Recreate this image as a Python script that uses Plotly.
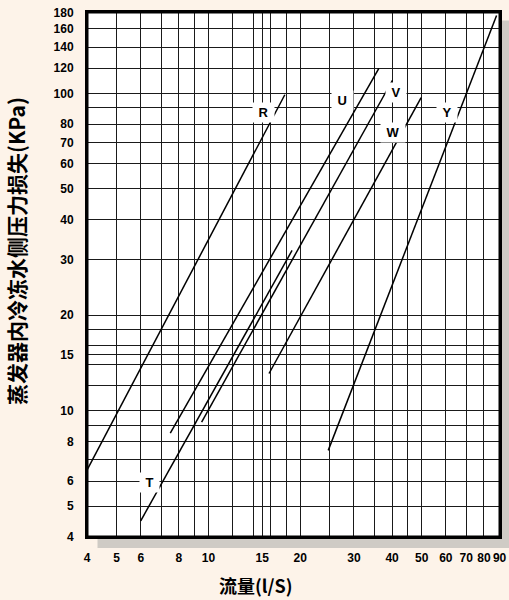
import math
import plotly.graph_objects as go

# Evaporator chilled-water side pressure drop vs. flow, one straight log-log line per model
curve_names = ["R", "T", "U", "V", "W", "Y"]
flow_ls = {
    "R": [4.0, 17.8],
    "T": [6.0, 18.8],
    "U": [7.5, 36.2],
    "V": [9.5, 40.1],
    "W": [15.8, 49.8],
    "Y": [24.7, 88.0],
}
pressure_kpa = {
    "R": [6.5, 99.0],
    "T": [4.5, 32.0],
    "U": [8.5, 120.0],
    "V": [9.2, 110.0],
    "W": [13.1, 97.0],
    "Y": [7.5, 176.0],
}

# Grid / tick values
x_grid = [4, 5, 6, 7, 8, 9, 10, 12, 14, 15, 16, 18, 20, 25, 30, 35, 40, 45, 50, 60, 70, 80, 90]
x_labeled = [4, 5, 6, 8, 10, 15, 20, 30, 40, 50, 60, 70, 80, 90]
y_grid = [4, 5, 6, 7, 8, 9, 10, 12, 14, 15, 16, 18, 20, 30, 40, 50, 60, 70, 80, 90,
          100, 120, 140, 160, 180]
y_labeled = [4, 5, 6, 8, 10, 15, 20, 30, 40, 50, 60, 70, 80, 100, 120, 140, 160, 180]

x_text = [str(v) if v in x_labeled else "" for v in x_grid]
y_text = [str(v) if v in y_labeled else "" for v in y_grid]

# Where each curve name sits (flow, pressure)
label_pos = {
    "R": (15.1, 87.3),
    "U": (27.6, 94.8),
    "V": (41.2, 100.8),
    "W": (40.3, 75.3),
    "Y": (60.4, 87.3),
    "T": (6.42, 5.96),
}

# Page geometry (px)
W, H = 509, 600
ml, mr, mt, mb = 87, 0, 12, 52
pw, ph = W - ml - mr, H - mt - mb
plot_right, plot_bottom = 500, 537

def px_x(p):
    return (p - ml) / pw

def px_y(p):
    return (H - mb - p) / ph

fig = go.Figure()
for name in curve_names:
    fig.add_trace(go.Scatter(
        x=flow_ls[name], y=pressure_kpa[name], mode="lines",
        line=dict(color="black", width=1.5), name=name, showlegend=False,
    ))

nb = "\u00a0"
for name, (fx, py) in label_pos.items():
    fig.add_annotation(
        x=math.log10(fx), y=math.log10(py), xref="x", yref="y",
        text=f"{nb}{name}{nb}", showarrow=False,
        font=dict(family="Liberation Sans, Arial", size=13, color="black", weight="bold"),
        bgcolor="white", borderpad=2,
    )

tick_font = dict(family="Liberation Sans, Arial", size=12, color="black", weight="bold")
grid_color = "#1a1a1a"

fig.update_xaxes(
    type="log", range=[math.log10(4), math.log10(90.3)], automargin=False,
    domain=[0, px_x(plot_right)],
    tickmode="array", tickvals=x_grid, ticktext=x_text, tickangle=0,
    showgrid=True, gridcolor=grid_color, gridwidth=1,
    zeroline=False, showline=True, linecolor="black", linewidth=2, mirror=True,
    ticks="outside", ticklen=9, tickcolor="rgba(0,0,0,0)",
    tickfont=tick_font,
)
fig.update_yaxes(
    type="log", range=[math.log10(4), math.log10(180.5)], automargin=False,
    domain=[px_y(plot_bottom), 1],
    tickmode="array", tickvals=y_grid, ticktext=y_text,
    showgrid=True, gridcolor=grid_color, gridwidth=1,
    zeroline=False, showline=True, linecolor="black", linewidth=2, mirror=True,
    ticks="outside", ticklen=9, tickcolor="rgba(0,0,0,0)",
    tickfont=tick_font,
)

# inner half of the heavy frame
fig.add_shape(type="rect", xref="x domain", yref="y domain",
              x0=0, x1=1, y0=0, y1=1,
              line=dict(color="black", width=3), layer="above")

# drop shadow: strip on the right side and strip along the bottom
shadow = "#CFCBC5"
fig.add_shape(type="rect", xref="paper", yref="paper",
              x0=px_x(502), x1=1, y0=px_y(548), y1=px_y(20.5),
              fillcolor=shadow, line=dict(width=0), layer="below")
fig.add_shape(type="rect", xref="paper", yref="paper",
              x0=px_x(97.5), x1=1, y0=px_y(548), y1=px_y(538.5),
              fillcolor=shadow, line=dict(width=0), layer="below")

fig.add_annotation(
    x=px_x(16), y=px_y(251), xref="paper", yref="paper",
    text="蒸发器内冷冻水侧压力损失(KPa)", textangle=-90, showarrow=False,
    font=dict(family="Noto Sans CJK SC", size=21, color="black", weight="bold"),
    xanchor="center", yanchor="middle",
)
fig.add_annotation(
    x=px_x(255), y=px_y(585), xref="paper", yref="paper",
    text="流量(l/S)", showarrow=False,
    font=dict(family="Noto Sans CJK SC", size=18, color="black", weight="bold"),
    xanchor="center", yanchor="middle",
)

fig.update_layout(
    width=W, height=H,
    margin=dict(l=ml, r=mr, t=mt, b=mb, pad=0, autoexpand=False),
    paper_bgcolor="#FDF3E9", plot_bgcolor="white",
    showlegend=False,
)

fig.write_html("out.html")
